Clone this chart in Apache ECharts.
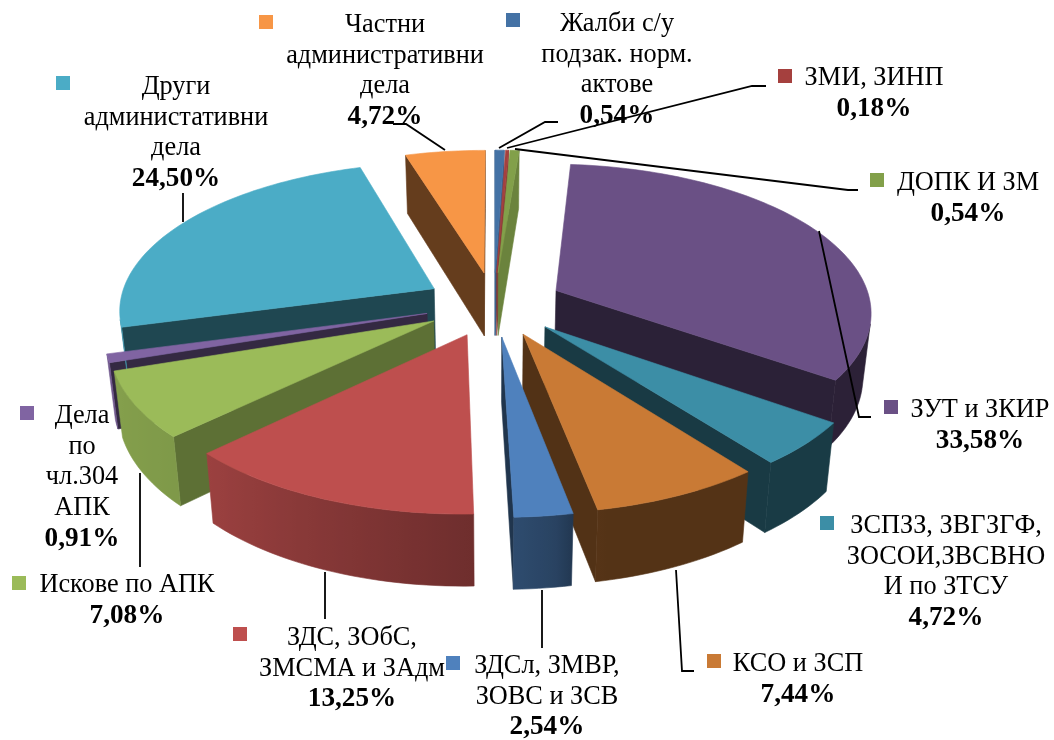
<!DOCTYPE html>
<html><head><meta charset="utf-8">
<style>html,body{margin:0;padding:0;background:#fff}#c{width:1054px;height:740px}</style>
<script src="https://cdn.jsdelivr.net/npm/echarts@6/dist/echarts.min.js"></script>
</head><body><div id="c"></div>
<script>
const categories = ['Жалби с/у\nподзак. норм.\nактове','ЗМИ, ЗИНП','ДОПК И ЗМ','ЗУТ и ЗКИР','ЗСПЗЗ, ЗВГЗГФ,\nЗОСОИ,ЗВСВНО\nИ по ЗТСУ','КСО и ЗСП','ЗДСл, ЗМВР,\nЗОВС и ЗСВ','ЗДС, ЗОбС,\nЗМСМА и ЗАдм','Искове по АПК','Дела\nпо\nчл.304\nАПК','Други\nадминистативни\nдела','Частни\nадминистративни\nдела'];
const values = [0.54,0.18,0.54,33.58,4.72,7.44,2.54,13.25,7.08,0.91,24.50,4.72];
const colors = ['#4472A5','#A5403E','#82A04A','#6A5085','#3C8EA6','#C97A35','#4F81BD','#BE4F4E','#9BBB59','#8064A2','#4BACC6','#F79646'];
// label layout: centre x, first line y, square x, square y
const labelPos = [[617,24,506,13],[874,78,778,69],[968,183,870,173],[980,410,884,400],[946,526,820,516],[798,664,707,654],[547,666,446,656],[352,638,233,627],[127,585,12,576],[82,416,20,406],[176,87,56,76],[385,25,259,15]];
const leaders = [
 [[499,148],[545,122],[558,122]],
 [[507,148],[752,86],[766,86]],
 [[515,149],[848,190],[858,190]],
 [[819,231],[859,417],[871,417]],
 [[676,570],[682,671],[694,671]],
 [[542,590],[542,648]],
 [[325,572],[325,619]],
 [[140,473],[140,567]],
 [[183,193],[183,222]],
 [[393,124],[406,124],[445,150]]
];
// projection parameters
const cx=494, cy=304, rx=315, ry=146.6, persp=0.133, depth=64, depthPersp=0.66, lowScale=0.978, explode=0.22;

function project(X,Y,low){
  const s=1/(1+persp*Y);
  return [cx+rx*X*s*(low?lowScale:1), cy-ry*Y*s+(low?depth*(1+depthPersp*(s-1)):0)];
}
function shade(hex,f){
  const n=parseInt(hex.slice(1),16);
  const c=[n>>16,(n>>8)&255,n&255].map(v=>Math.round(v*f));
  return 'rgb('+c.join(',')+')';
}
function arcFactor(deg){
  const p=[[0,.4],[169,.42],[172,.52],[178,.58],[226,.82],[260,.87],[360,.87]];
  for(let i=1;i<p.length;i++) if(deg<=p[i][0]){
    const t=(deg-p[i-1][0])/(p[i][0]-p[i-1][0]);
    return p[i-1][1]+t*(p[i][1]-p[i-1][1]);
  }
  return .87;
}
function radialFactor(deg){ return deg<10?.82:(deg>200&&deg<240)?.6:.41; }
const total=values.reduce((a,b)=>a+b,0);
let acc=0;
const slices=values.map((v,i)=>{const a0=acc/total*360;acc+=v;const a1=acc/total*360;return {i,a0,a1,mid:(a0+a1)/2};});
const order=slices.slice().sort((p,q)=>Math.cos(q.mid*Math.PI/180)-Math.cos(p.mid*Math.PI/180));

function poly(points,fill,z2,strokeCol){
  return {type:'polygon',z2,shape:{points},style:{fill,stroke:strokeCol||fill,lineWidth:0.6},silent:true};
}
function area(p){let s=0;for(let i=0;i<p.length;i++){const q=p[(i+1)%p.length];s+=p[i][0]*q[1]-q[0]*p[i][1];}return s/2;}

function renderSlice(params,api){
  const sl=order[params.dataIndex];
  const col=colors[sl.i], R=Math.PI/180;
  const ox=explode*Math.sin(sl.mid*R), oy=explode*Math.cos(sl.mid*R);
  const steps=Math.max(3,Math.ceil((sl.a1-sl.a0)/1.5));
  const pt=d=>[ox+Math.sin(d*R),oy+Math.cos(d*R)];
  const children=[];
  const aT=project(ox,oy,false), aB=project(ox,oy,true);
  const pushRadial=(d,start)=>{
    const e=pt(d), eT=project(e[0],e[1],false), eB=project(e[0],e[1],true);
    const q=[aT,eT,eB,aB];
    const a=area(q);
    if((start&&a<0)||(!start&&a>0)) children.push(poly(q,shade(col,radialFactor(d)),1));
  };
  pushRadial(sl.a0,true);
  pushRadial(sl.a1,false);
  const top=[aT];
  const visT=[],visB=[],visD=[];
  for(let k=0;k<=steps;k++){
    const d=sl.a0+(sl.a1-sl.a0)*k/steps, e=pt(d);
    const t=project(e[0],e[1],false), b=project(e[0],e[1],true);
    top.push(t);
    if(k<steps){
      const d2=sl.a0+(sl.a1-sl.a0)*(k+1)/steps, e2=pt(d2);
      const t2=project(e2[0],e2[1],false), b2=project(e2[0],e2[1],true);
      if(area([t,t2,b2,b])<0){
        if(!visT.length){visT.push(t);visB.push(b);visD.push(d);}
        visT.push(t2);visB.push(b2);visD.push(d2);
      }
    }
  }
  if(visT.length){
    const xs=visT.concat(visB).map(p=>p[0]);
    const x0=Math.min(...xs), x1=Math.max(...xs);
    const stops=visT.map((p,k)=>({offset:Math.min(1,Math.max(0,(p[0]-x0)/Math.max(1,x1-x0))),color:shade(col,arcFactor(visD[k]))})).sort((a,b)=>a.offset-b.offset);
    const grad=new echarts.graphic.LinearGradient(x0,0,x1,0,stops,true);
    children.push(poly(visT.concat(visB.slice().reverse()),grad,2,grad));
  }
  children.push(poly(top,col,3));
  return {type:'group',children};
}

const pct=v=>v.toFixed(2).replace('.',',');
const graphics=[];
const lineStep=30.7;
categories.forEach((c,i)=>{
  const [tx,ty,sx,sy]=labelPos[i];
  const lines=c.split('\n');
  graphics.push({type:'rect',z:20,shape:{x:sx,y:sy,width:14,height:14},style:{fill:colors[i]}});
  lines.forEach((ln,k)=>graphics.push({type:'text',z:20,x:tx,y:ty+k*lineStep,style:{text:ln,align:'center',verticalAlign:'middle',fill:'#000',font:'26.3px "Liberation Serif"'}}));
  graphics.push({type:'text',z:20,x:tx,y:ty+lines.length*lineStep,style:{text:pct(values[i])+'%',align:'center',verticalAlign:'middle',fill:'#000',font:'bold 27.2px "Liberation Serif"'}});
});
leaders.forEach(pts=>graphics.push({type:'polyline',z:21,shape:{points:pts},style:{stroke:'#000',lineWidth:1.8,fill:null}}));

const chart=echarts.init(document.getElementById('c'),null,{renderer:'canvas'});
chart.setOption({
  animation:false,
  backgroundColor:'#fff',
  graphic:{elements:graphics},
  series:[{type:'custom',coordinateSystem:'none',silent:true,clip:false,
    renderItem:renderSlice,
    data:order.map(s=>({name:categories[s.i].replace(/\n/g,' '),value:values[s.i]}))}]
});
</script></body></html>
